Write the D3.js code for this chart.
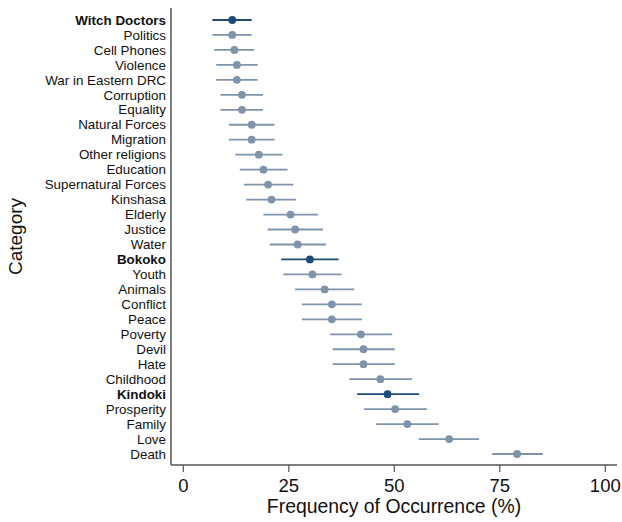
<!DOCTYPE html>
<html>
<head>
<meta charset="utf-8">
<script src="https://cdn.jsdelivr.net/npm/d3@7"></script>
<style>
  body { margin: 0; background: #fff; }
  svg { display: block; font-family: "Liberation Sans", Arial, sans-serif; }
</style>
</head>
<body>
<div id="chart"></div>
<script>
// categories top to bottom
const categories = [
  "Witch Doctors", "Politics", "Cell Phones", "Violence", "War in Eastern DRC",
  "Corruption", "Equality", "Natural Forces", "Migration", "Other religions",
  "Education", "Supernatural Forces", "Kinshasa", "Elderly", "Justice",
  "Water", "Bokoko", "Youth", "Animals", "Conflict",
  "Peace", "Poverty", "Devil", "Hate", "Childhood",
  "Kindoki", "Prosperity", "Family", "Love", "Death"
]
const estimates = [
  11.6, 11.6, 12.1, 12.7, 12.7,
  13.9, 13.9, 16.2, 16.2, 17.9,
  19.0, 20.1, 20.9, 25.4, 26.5,
  27.1, 30.0, 30.6, 33.5, 35.2,
  35.2, 42.1, 42.7, 42.7, 46.7,
  48.4, 50.2, 53.1, 63.0, 79.1
]
const lower = [
  6.9, 6.9, 7.3, 7.8, 7.8,
  8.8, 8.8, 10.8, 10.8, 12.3,
  13.4, 14.4, 14.9, 19.0, 20.0,
  20.5, 23.2, 23.7, 26.5, 28.1,
  28.1, 34.8, 35.4, 35.4, 39.3,
  41.2, 42.8, 45.7, 55.8, 73.2
]
const upper = [
  16.2, 16.2, 16.8, 17.6, 17.6,
  18.9, 18.9, 21.6, 21.6, 23.5,
  24.7, 26.1, 26.7, 31.9, 33.1,
  33.8, 36.8, 37.5, 40.5, 42.3,
  42.3, 49.5, 50.1, 50.1, 54.2,
  55.9, 57.7, 60.5, 70.1, 85.2
]
const highlighted = ["Witch Doctors", "Bokoko", "Kindoki"]
const xTicks = [0, 25, 50, 75, 100]

const width = 622
const height = 522
const plotLeft = 171, plotRight = 617, plotTop = 8, plotBottom = 465

const darkColor = "#1d4b75"
const lightColor = "#7f93ab"

const data = categories.map((c, i) => ({
  category: c, est: estimates[i], lo: lower[i], hi: upper[i],
  hl: highlighted.includes(c)
}))

const x = d3.scaleLinear().domain([0, 100]).range([183.3, 605.3])
const y = d3.scalePoint().domain(categories).range([20, 454])

const svg = d3.select("#chart").append("svg")
  .attr("width", width)
  .attr("height", height)

// error bars
svg.append("g")
  .selectAll("line")
  .data(data)
  .enter().append("line")
    .attr("x1", d => x(d.lo))
    .attr("x2", d => x(d.hi))
    .attr("y1", d => y(d.category))
    .attr("y2", d => y(d.category))
    .attr("stroke", d => d.hl ? darkColor : lightColor)
    .attr("stroke-width", 1.8)

// points
svg.append("g")
  .selectAll("circle")
  .data(data)
  .enter().append("circle")
    .attr("cx", d => x(d.est))
    .attr("cy", d => y(d.category))
    .attr("r", 3.9)
    .attr("fill", d => d.hl ? darkColor : lightColor)

// y labels
svg.append("g")
  .selectAll("text")
  .data(data)
  .enter().append("text")
    .attr("x", 166)
    .attr("y", d => y(d.category))
    .attr("dy", "0.35em")
    .attr("text-anchor", "end")
    .attr("font-size", 13.4)
    .attr("font-weight", d => d.hl ? "bold" : "normal")
    .attr("fill", "#111")
    .text(d => d.category)

// axis lines
svg.append("line")
  .attr("x1", plotLeft).attr("x2", plotLeft)
  .attr("y1", plotTop).attr("y2", plotBottom)
  .attr("stroke", "#555").attr("stroke-width", 1.5)

const xAxis = svg.append("g")
  .attr("transform", `translate(0,${plotBottom})`)

xAxis.append("line")
  .attr("x1", plotLeft).attr("x2", plotRight)
  .attr("stroke", "#555").attr("stroke-width", 1.5)

xAxis.selectAll(".tick")
  .data(xTicks)
  .enter().append("line")
    .attr("x1", d => x(d)).attr("x2", d => x(d))
    .attr("y1", 0).attr("y2", 7)
    .attr("stroke", "#555").attr("stroke-width", 1.2)

xAxis.selectAll("text")
  .data(xTicks)
  .enter().append("text")
    .attr("x", d => x(d))
    .attr("y", 27)
    .attr("text-anchor", "middle")
    .attr("font-size", 18.5)
    .attr("fill", "#111")
    .text(d => d)

// axis titles
svg.append("text")
  .attr("x", (plotLeft + plotRight) / 2)
  .attr("y", 513)
  .attr("text-anchor", "middle")
  .attr("font-size", 19.4)
  .attr("fill", "#111")
  .text("Frequency of Occurrence (%)")

svg.append("text")
  .attr("transform", `translate(22,${(plotTop + plotBottom) / 2}) rotate(-90)`)
  .attr("text-anchor", "middle")
  .attr("font-size", 19)
  .attr("fill", "#111")
  .text("Category")
</script>
</body>
</html>
